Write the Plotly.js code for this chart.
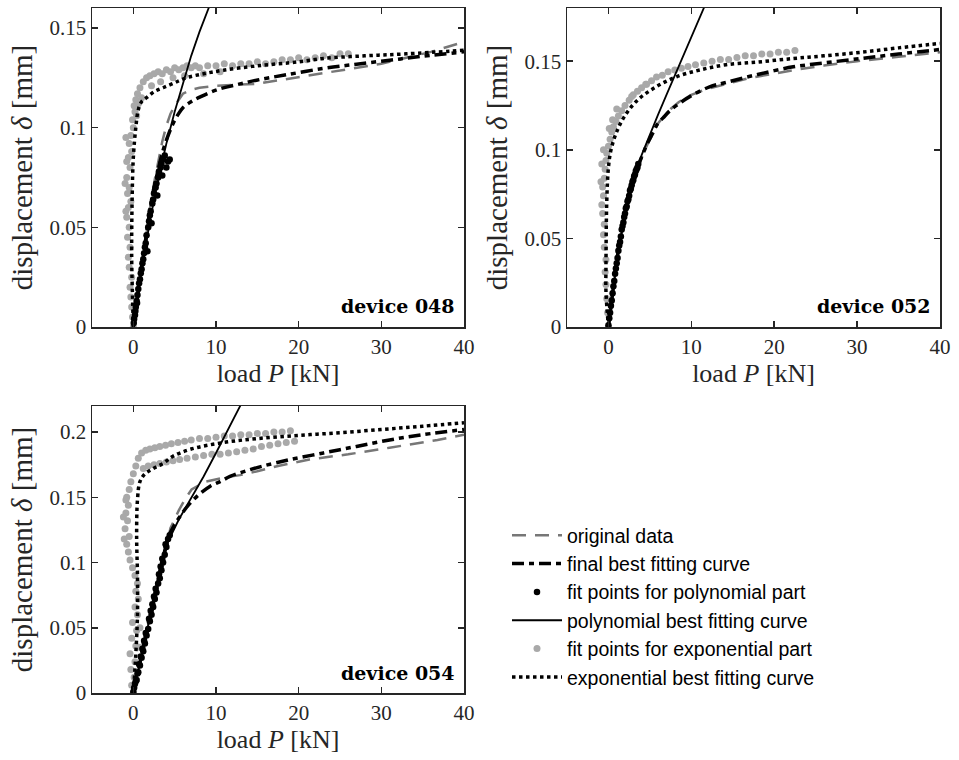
<!DOCTYPE html>
<html>
<head>
<meta charset="utf-8">
<script src="https://cdn.plot.ly/plotly-3.0.1.min.js"></script>
<style>html,body{margin:0;padding:0;background:#fff;}#chart{width:959px;height:760px;}</style>
</head>
<body>
<div id="chart"></div>
<script>
// ---------- legend / series names ----------
const seriesNames = ["original data", "final best fitting curve", "fit points for polynomial part",
  "polynomial best fitting curve", "fit points for exponential part", "exponential best fitting curve"];
const deviceLabels = ["device 048", "device 052", "device 054"];
const xTickVals = [0, 10, 20, 30, 40];

// ---------- device 048 ----------
const orig048_P = [0, 0.5, 1, 1.5, 2, 2.5, 3, 3.5, 4, 4.5, 5, 6, 7, 8, 10, 12, 15, 18, 21, 24, 27, 30, 33, 36, 40];
const orig048_d = [0, 0.015, 0.030, 0.045, 0.059, 0.072, 0.083, 0.093, 0.101, 0.107, 0.111, 0.117, 0.119, 0.120, 0.121, 0.1215, 0.122, 0.124, 0.126, 0.128, 0.130, 0.132, 0.135, 0.138, 0.143];
const final048_P = [0, 0.5, 1.0, 1.6, 2.2, 2.9, 3.6, 4.2, 4.8, 5.4, 6.0, 7.0, 8.1, 10.1, 12.5, 14.9, 18.5, 23, 27, 31, 35, 40];
const final048_d = [0, 0.015, 0.030, 0.047, 0.0636, 0.077, 0.0887, 0.096, 0.102, 0.1065, 0.110, 0.113, 0.1154, 0.119, 0.1215, 0.1238, 0.1265, 0.1297, 0.1318, 0.1338, 0.1358, 0.138];
const polyPts048_P = [0.05, 0.1, 0.2, 0.3, 0.25, 0.4, 0.5, 0.45, 0.6, 0.7, 0.8, 0.9, 1.0, 1.1, 1.2, 1.3, 1.4, 1.5, 1.6, 1.8, 1.9, 2.0, 2.1, 2.3, 2.4, 2.5, 2.7, 2.8, 3.0, 3.1, 3.3, 3.4, 3.6, 3.8, 4.0, 4.2, 4.4, 3.5, 2.9, 2.2, 1.7];
const polyPts048_d = [0.002, 0.004, 0.006, 0.010, 0.008, 0.013, 0.016, 0.012, 0.019, 0.022, 0.024, 0.027, 0.029, 0.032, 0.034, 0.037, 0.040, 0.042, 0.046, 0.050, 0.053, 0.056, 0.058, 0.062, 0.064, 0.067, 0.070, 0.072, 0.075, 0.078, 0.080, 0.082, 0.084, 0.086, 0.080, 0.083, 0.084, 0.076, 0.066, 0.052, 0.038];
const poly048_P = [0, 1, 2, 3, 4, 5, 6, 7, 8, 9.3];
const poly048_d = [0, 0.028, 0.053, 0.074, 0.092, 0.108, 0.122, 0.136, 0.148, 0.162];
const expPts048_P = [0, -0.1, -0.2, -0.3, -0.4, -0.2, -0.5, -0.6, -0.4, -0.7, -0.5, -0.8, -0.6, -0.3, -0.7, -0.5, -0.8, -0.4, -0.6, -0.2, -0.5, -0.3, 0.0, -0.1, 0.2, 0.1, 0.3, 0.5,
  0.8, 1.2, 1.6, 2.0, 2.5, 3.0, 3.5, 4.0, 4.5, 5.0, 5.5, 6.0, 6.5, 7.0, 7.5, 8.0, 9, 10, 11, 12, 13, 14, 15, 16, 17, 18, 19, 20, 21, 22, 23, 24, 25, 26, 1.0, 2.2, 3.3, 4.8, 6.2, 8.5, 10.5,
  -0.9, -1.0, -0.8, -0.9, 0.4, 0.6];
const expPts048_d = [0, 0.005, 0.01, 0.015, 0.02, 0.025, 0.03, 0.035, 0.04, 0.045, 0.05, 0.055, 0.06, 0.063, 0.067, 0.07, 0.075, 0.08, 0.085, 0.088, 0.092, 0.096, 0.1, 0.104, 0.108, 0.111, 0.114, 0.117,
  0.12, 0.123, 0.125, 0.126, 0.127, 0.128, 0.127, 0.129, 0.128, 0.130, 0.129, 0.130, 0.131, 0.130, 0.131, 0.130, 0.131, 0.131, 0.132, 0.131, 0.132, 0.132, 0.133, 0.132, 0.133, 0.134, 0.134, 0.135, 0.134, 0.135, 0.136, 0.135, 0.137, 0.137, 0.115, 0.121, 0.123, 0.125, 0.126, 0.127, 0.128,
  0.058, 0.072, 0.083, 0.095, 0.106, 0.112];
const exp048_P = [0, -0.1, -0.2, -0.15, 0, 0.3, 0.6, 1.0, 1.6, 2.5, 3.6, 5, 6.4, 8.5, 10.9, 15, 20, 23, 28, 33, 40];
const exp048_d = [0, 0.015, 0.035, 0.063, 0.085, 0.1, 0.109, 0.113, 0.115, 0.118, 0.12, 0.1225, 0.125, 0.127, 0.1288, 0.131, 0.133, 0.1347, 0.136, 0.137, 0.1388];

// ---------- device 052 ----------
const orig052_P = [0, 0.5, 0.9, 1.5, 2.3, 2.9, 3.5, 4.1, 4.7, 5.3, 6.0, 6.7, 7.5, 8.5, 10, 12, 14, 17, 20, 23, 26, 30, 35, 40];
const orig052_d = [0, 0.019, 0.034, 0.052, 0.071, 0.081, 0.089, 0.097, 0.103, 0.109, 0.115, 0.119, 0.123, 0.127, 0.131, 0.1345, 0.137, 0.1405, 0.143, 0.1455, 0.1475, 0.150, 0.1525, 0.155];
const final052_P = [0, 0.5, 0.9, 1.5, 2.3, 2.9, 3.5, 4.1, 4.7, 5.3, 5.95, 6.6, 7.4, 8.5, 9.8, 12.2, 14.2, 18, 22.3, 26, 30.4, 35, 40];
const final052_d = [0, 0.019, 0.034, 0.052, 0.0715, 0.081, 0.090, 0.097, 0.1036, 0.109, 0.1148, 0.118, 0.122, 0.126, 0.130, 0.1355, 0.138, 0.1425, 0.1468, 0.149, 0.1515, 0.154, 0.1566];
const polyPts052_P = [0, 0.1, 0.2, 0.3, 0.4, 0.5, 0.6, 0.7, 0.8, 0.9, 1.0, 1.1, 1.2, 1.3, 1.4, 1.5, 1.6, 1.7, 1.8, 1.9, 2.0, 2.1, 2.2, 2.3, 2.4, 2.5, 2.6, 2.7, 2.8, 2.9, 3.0, 3.1, 3.2, 3.3, 3.4, 3.5, 3.6];
const polyPts052_d = [0.001, 0.005, 0.008, 0.012, 0.015, 0.019, 0.023, 0.026, 0.030, 0.033, 0.036, 0.039, 0.043, 0.046, 0.048, 0.051, 0.055, 0.057, 0.059, 0.062, 0.064, 0.067, 0.068, 0.071, 0.072, 0.074, 0.077, 0.078, 0.080, 0.082, 0.083, 0.085, 0.086, 0.088, 0.089, 0.090, 0.092];
const poly052_P = [0, 1, 2, 3, 4, 5, 6, 7, 8, 9, 10, 11.6];
const poly052_d = [0, 0.036, 0.064, 0.083, 0.097, 0.109, 0.12, 0.131, 0.142, 0.153, 0.164, 0.181];
const expPts052_P = [0, -0.1, -0.2, -0.3, -0.4, -0.3, -0.5, -0.6, -0.5, -0.7, -0.8, -0.6, -0.7, -0.5, -0.4, -0.3, -0.2, 0.0, 0.2, 0.4, 0.6, 0.9, 1.2, 1.6, 2.0, 2.5, 3.0, 3.5, 4.0, 4.6, 5.2, 5.8, 6.5, 7.2, 8.0, 8.8, 9.6, 10.5, 11.5, 12.5, 13.5, 14.5, 15.5, 16.5, 17.5, 18.5, 19.5, 20.5, 21.5, 22.5,
  -0.9, -0.8, -0.6, 0.1, 0.5, 1.0, 2.8, 4.5];
const expPts052_d = [0, 0.008, 0.016, 0.024, 0.031, 0.038, 0.045, 0.052, 0.058, 0.064, 0.069, 0.074, 0.079, 0.084, 0.089, 0.094, 0.098, 0.102, 0.106, 0.11, 0.113, 0.116, 0.119, 0.122, 0.125, 0.128, 0.131, 0.133, 0.135, 0.137, 0.139, 0.141, 0.142, 0.144, 0.145, 0.146, 0.147, 0.148, 0.149, 0.150, 0.151, 0.151, 0.152, 0.153, 0.153, 0.154, 0.154, 0.155, 0.155, 0.156,
  0.082, 0.092, 0.1, 0.112, 0.117, 0.123, 0.13, 0.137];
const exp052_P = [0, -0.3, -0.3, -0.2, 0, 0.3, 0.9, 1.9, 3.5, 5.75, 8.2, 11, 14.2, 18, 22.3, 26, 30.4, 35, 40];
const exp052_d = [0, 0.02, 0.034, 0.0715, 0.09, 0.0998, 0.109, 0.1186, 0.128, 0.1355, 0.1412, 0.145, 0.148, 0.1495, 0.1515, 0.153, 0.155, 0.1575, 0.16];

// ---------- device 054 ----------
const orig054_P = [0, 1, 2, 3, 4, 4.5, 5.5, 6.3, 7.05, 8.7, 10.9, 12.9, 15, 17.5, 21.3, 26, 31, 36.8, 40];
const orig054_d = [0, 0.03, 0.058, 0.086, 0.113, 0.1265, 0.140, 0.149, 0.156, 0.162, 0.165, 0.167, 0.170, 0.174, 0.179, 0.183, 0.188, 0.194, 0.198];
const final054_P = [0, 0.5, 1, 1.5, 2, 2.5, 3, 3.5, 4.2, 4.9, 5.65, 6.4, 7.25, 8.2, 9.3, 10.5, 11.7, 13.5, 15.7, 19, 23, 27, 31, 35, 40];
const final054_d = [0, 0.015, 0.029, 0.044, 0.058, 0.072, 0.086, 0.1, 0.119, 0.128, 0.1354, 0.142, 0.148, 0.1535, 0.1585, 0.162, 0.166, 0.170, 0.174, 0.179, 0.184, 0.189, 0.194, 0.198, 0.202];
const polyPts054_P = [0, 0.1, 0.2, 0.4, 0.3, 0.6, 0.5, 0.8, 0.7, 1.0, 0.9, 1.2, 1.1, 1.4, 1.3, 1.6, 1.5, 1.8, 2.0, 1.9, 2.2, 2.1, 2.4, 2.3, 2.6, 2.5, 2.8, 2.7, 3.0, 3.2, 3.1, 3.4, 3.3, 3.6, 3.5, 3.8, 4.0, 3.9, 4.2, 4.4];
const polyPts054_d = [0.001, 0.004, 0.007, 0.01, 0.009, 0.016, 0.015, 0.021, 0.022, 0.027, 0.028, 0.032, 0.034, 0.038, 0.040, 0.044, 0.046, 0.049, 0.055, 0.057, 0.060, 0.063, 0.066, 0.068, 0.072, 0.074, 0.077, 0.08, 0.084, 0.088, 0.091, 0.094, 0.097, 0.100, 0.103, 0.106, 0.112, 0.114, 0.118, 0.121];
const poly054_P = [0, 1, 2, 3, 4.2, 5.5, 7, 8.5, 10, 11.5, 13.0];
const poly054_d = [0, 0.03, 0.058, 0.086, 0.116, 0.133, 0.149, 0.166, 0.184, 0.202, 0.221];
const expPts054_P = [0, -0.2, 0.1, -0.3, 0.2, -0.4, 0.3, -0.2, 0.4, -0.1, 0.5, 0.2, 0.6, 0.3, 0.5, 0.2, -0.1, -0.4, -0.6, -0.8, -0.5, -1.0, -0.7, -0.9, -0.6, -0.8, -0.5, -0.3, 0.0, 0.3,
  0.6, 1.0, 1.5, 2.0, 2.6, 3.2, 3.9, 4.6, 5.4, 6.2, 7.0, 8.0, 9.0, 10.0, 11.0, 12.0, 13.0, 14.0, 15.0, 16.0, 17.0, 18.0, 19.0,
  1.2, 1.8, 2.5, 3.2, 4.0, 4.8, 5.6, 6.5, 7.5, 8.5, 9.5, 10.5, 11.5, 12.5, 13.5, 14.5, 15.5, 16.5, 17.5, 18.5, 19.5,
  -1.1, -1.2, -0.9, 0.8, 0.7];
const expPts054_d = [0, 0.006, 0.012, 0.018, 0.024, 0.03, 0.036, 0.042, 0.048, 0.054, 0.06, 0.066, 0.072, 0.078, 0.084, 0.09, 0.096, 0.102, 0.108, 0.114, 0.12, 0.126, 0.132, 0.138, 0.144, 0.15, 0.156, 0.162, 0.168, 0.174,
  0.18, 0.184, 0.186, 0.187, 0.188, 0.189, 0.19, 0.191, 0.192, 0.193, 0.194, 0.195, 0.195, 0.196, 0.197, 0.197, 0.198, 0.198, 0.199, 0.199, 0.2, 0.2, 0.201,
  0.172, 0.174, 0.175, 0.176, 0.177, 0.178, 0.179, 0.18, 0.181, 0.182, 0.183, 0.183, 0.184, 0.185, 0.186, 0.187, 0.189, 0.19, 0.191, 0.192, 0.193,
  0.118, 0.135, 0.148, 0.05, 0.035];
const exp054_P = [0, 0.3, 0.5, 0.5, 0.4, 0.5, 0.8, 1.4, 2.4, 3.6, 4.8, 7, 10.9, 15, 20, 25, 30, 35, 40];
const exp054_d = [0, 0.03, 0.06, 0.09, 0.12, 0.148, 0.162, 0.168, 0.172, 0.176, 0.1815, 0.187, 0.192, 0.195, 0.1975, 0.1995, 0.202, 0.2045, 0.2072];

// ---------- build traces ----------
const devices = [
  {xa: 'x', ya: 'y', orig: [orig048_P, orig048_d], fin: [final048_P, final048_d], pp: [polyPts048_P, polyPts048_d], pc: [poly048_P, poly048_d], ep: [expPts048_P, expPts048_d], ec: [exp048_P, exp048_d]},
  {xa: 'x2', ya: 'y2', orig: [orig052_P, orig052_d], fin: [final052_P, final052_d], pp: [polyPts052_P, polyPts052_d], pc: [poly052_P, poly052_d], ep: [expPts052_P, expPts052_d], ec: [exp052_P, exp052_d]},
  {xa: 'x3', ya: 'y3', orig: [orig054_P, orig054_d], fin: [final054_P, final054_d], pp: [polyPts054_P, polyPts054_d], pc: [poly054_P, poly054_d], ep: [expPts054_P, expPts054_d], ec: [exp054_P, exp054_d]}
];

const traces = [];
devices.forEach((d, i) => {
  const sl = i === 0;
  const base = {xaxis: d.xa, yaxis: d.ya, showlegend: sl, hoverinfo: 'skip'};
  traces.push(Object.assign({}, base, {x: d.orig[0], y: d.orig[1], name: seriesNames[0], legendrank: 1, mode: 'lines',
    line: {color: '#777777', width: 2.5, dash: '14px,9px'}}));
  traces.push(Object.assign({}, base, {x: d.ep[0], y: d.ep[1], name: seriesNames[4], legendrank: 5, mode: 'markers',
    marker: {color: '#a9a9a9', size: 7, line: {width: 0}}}));
  traces.push(Object.assign({}, base, {x: d.pp[0], y: d.pp[1], name: seriesNames[2], legendrank: 3, mode: 'markers',
    marker: {color: '#000000', size: 6.5, line: {width: 0}}}));
  traces.push(Object.assign({}, base, {x: d.pc[0], y: d.pc[1], name: seriesNames[3], legendrank: 4, mode: 'lines',
    line: {color: '#000000', width: 1.8}}));
  traces.push(Object.assign({}, base, {x: d.ec[0], y: d.ec[1], name: seriesNames[5], legendrank: 6, mode: 'lines',
    line: {color: '#000000', width: 3.5, dash: 'dot', shape: 'spline'}}));
  traces.push(Object.assign({}, base, {x: d.fin[0], y: d.fin[1], name: seriesNames[1], legendrank: 2, mode: 'lines',
    line: {color: '#000000', width: 3.5, dash: '12px,5px,5px,5px', shape: 'spline'}}));
});

const W = 959, H = 760;
const tickFont = {family: 'Liberation Serif, Times New Roman, serif', size: 21, color: '#262626'};
const xTitleFont = {family: 'Liberation Serif, Times New Roman, serif', size: 26, color: '#262626'};
const yTitleFont = {family: 'Liberation Serif, Times New Roman, serif', size: 29, color: '#262626'};

function xAxis(dom, anchor) {
  return {domain: dom, anchor: anchor, range: [-5, 40], tickvals: xTickVals, ticktext: xTickVals.map(String),
    ticks: 'inside', ticklen: 6, tickwidth: 1.5, tickcolor: '#262626', showline: true, mirror: 'ticks',
    linecolor: '#262626', linewidth: 1.5, showgrid: false, zeroline: false, tickfont: tickFont,
    title: {text: 'load <i>P</i> [kN]', font: xTitleFont, standoff: 6}, automargin: false, fixedrange: true};
}
function yAxis(dom, anchor, rng, vals, txt) {
  return {domain: dom, anchor: anchor, range: rng, tickvals: vals, ticktext: txt,
    ticks: 'inside', ticklen: 6, tickwidth: 1.5, tickcolor: '#262626', showline: true, mirror: 'ticks',
    linecolor: '#262626', linewidth: 1.5, showgrid: false, zeroline: false, tickfont: tickFont,
    title: {text: 'displacement <i>δ</i> [mm]', font: yTitleFont, standoff: 8}, automargin: false, fixedrange: true};
}

const layout = {
  width: W, height: H,
  margin: {l: 0, r: 0, t: 0, b: 0},
  paper_bgcolor: '#ffffff', plot_bgcolor: '#ffffff',
  xaxis: xAxis([92 / W, 464 / W], 'y'),
  yaxis: yAxis([1 - 327 / H, 1 - 8 / H], 'x', [0, 0.16], [0, 0.05, 0.1, 0.15], ['0', '0.05', '0.1', '0.15']),
  xaxis2: xAxis([567 / W, 940 / W], 'y2'),
  yaxis2: yAxis([1 - 327 / H, 1 - 8 / H], 'x2', [0, 0.18], [0, 0.05, 0.1, 0.15], ['0', '0.05', '0.1', '0.15']),
  xaxis3: xAxis([92 / W, 464 / W], 'y3'),
  yaxis3: yAxis([1 - 693 / H, 1 - 406 / H], 'x3', [0, 0.22], [0, 0.05, 0.1, 0.15, 0.2], ['0', '0.05', '0.1', '0.15', '0.2']),
  showlegend: true,
  legend: {x: 507 / W, y: 1 - 516 / H, xanchor: 'left', yanchor: 'top', bgcolor: 'rgba(0,0,0,0)',
    font: {family: 'Liberation Sans, Arial, sans-serif', size: 19.5, color: '#000'}, itemwidth: 50, tracegroupgap: 0,
    traceorder: 'normal'},
  annotations: [
    {text: '<b>' + deviceLabels[0] + '</b>', xref: 'x domain', yref: 'y domain', x: 0.98, y: 0.065, xanchor: 'right', yanchor: 'middle', showarrow: false,
      font: {family: 'DejaVu Serif, serif', size: 19, color: '#000'}},
    {text: '<b>' + deviceLabels[1] + '</b>', xref: 'x2 domain', yref: 'y2 domain', x: 0.98, y: 0.065, xanchor: 'right', yanchor: 'middle', showarrow: false,
      font: {family: 'DejaVu Serif, serif', size: 19, color: '#000'}},
    {text: '<b>' + deviceLabels[2] + '</b>', xref: 'x3 domain', yref: 'y3 domain', x: 0.98, y: 0.07, xanchor: 'right', yanchor: 'middle', showarrow: false,
      font: {family: 'DejaVu Serif, serif', size: 19, color: '#000'}}
  ]
};

Plotly.newPlot('chart', traces, layout, {staticPlot: true, displayModeBar: false});
</script>
</body>
</html>
